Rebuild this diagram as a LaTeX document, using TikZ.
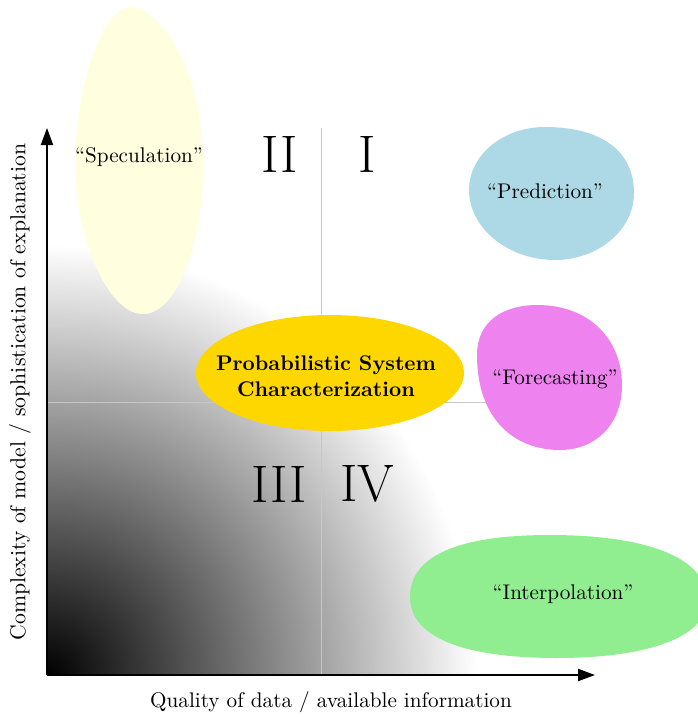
\documentclass[tikz,border=0pt]{standalone}
\usetikzlibrary{arrows.meta}
\definecolor{specyellow}{HTML}{FFFFE0}
\definecolor{predblue}{HTML}{ADD8E6}
\definecolor{forecviolet}{HTML}{EE82EE}
\definecolor{interpgreen}{HTML}{90EE90}
\definecolor{probgold}{HTML}{FFD700}
\newcommand{\txtsize}{\fontsize{10.6}{13}\selectfont}
\tikzset{
  axis/.style={line width=1pt,-{Triangle[length=8.5pt,width=6pt]}},
  quadline/.style={draw=black!22,line width=0.4pt},
  numeral/.style={font=\fontsize{26.4}{30}\selectfont,inner sep=0pt},
  blobtext/.style={font=\txtsize,inner sep=0pt},
}
\begin{document}
\begin{tikzpicture}[x=0.5pt,y=-0.5pt]
\useasboundingbox (0,0) rectangle (697,717);
\coordinate (O) at (47,675);
\coordinate (X) at (595,675);
\coordinate (Y) at (47,128);
\coordinate (XM) at (321,675);
\coordinate (XT) at (321,128);
\coordinate (YM) at (47,402);
\coordinate (YR) at (595,402);
% shading
\begin{scope}
\clip (O) rectangle (595,128);
\shade[inner color=black,outer color=white] (O) circle (430);
\end{scope}
% quadrant lines
\draw[quadline] (XM) -- (XT);
\draw[quadline] (YM) -- (YR);
% axes
\draw[axis] (O) -- (X);
\draw[axis] (O) -- (Y);
% numerals
\node[numeral] (n2) at (280,154) {II};
\node[numeral] (n1) at (367,154) {I};
\node[numeral] (n3) at (279,484) {III};
\node[numeral] (n4) at (367,484) {IV};
% blobs
\fill[specyellow] (130,7) .. controls (156,7) and (203,62) .. (203,165)
  .. controls (203,247) and (176,314) .. (143,314)
  .. controls (106,314) and (75,232) .. (75,165)
  .. controls (75,90) and (102,7) .. (130,7) -- cycle;
\fill[predblue] (545,127) .. controls (600,127) and (634,150) .. (634,193)
  .. controls (634,230) and (598,260) .. (555,260)
  .. controls (508,260) and (469,228) .. (469,190)
  .. controls (469,155) and (503,127) .. (545,127) -- cycle;
\fill[forecviolet] (537,305) .. controls (590,305) and (622,340) .. (622,385)
  .. controls (622,425) and (595,450) .. (560,450)
  .. controls (515,450) and (477,420) .. (477,355)
  .. controls (477,320) and (505,305) .. (537,305) -- cycle;
\fill[interpgreen] (550,535) .. controls (640,535) and (707,555) .. (707,600)
  .. controls (707,640) and (640,658) .. (557,658)
  .. controls (470,658) and (410,640) .. (410,597)
  .. controls (410,555) and (460,535) .. (550,535) -- cycle;
\fill[probgold] (330,373) ellipse [x radius=134, y radius=58];
% texts
\node[blobtext] (spec) at (139,157) {``Speculation''};
\node[blobtext] (pred) at (545,191) {``Prediction''};
\node[blobtext] (fore) at (555,379) {``Forecasting''};
\node[blobtext] (interp) at (563,594) {``Interpolation''};
\node[blobtext,align=center,font=\txtsize\bfseries] (prob) at (326,376) {Probabilistic System\\Characterization};
% axis labels
\node[font=\txtsize] (xlabel) at (331,702) {Quality of data / available information};
\node[font=\fontsize{10.86}{13}\selectfont,rotate=90] (ylabel) at (20,392) {Complexity of model / sophistication of explanation};
\end{tikzpicture}
\end{document}
